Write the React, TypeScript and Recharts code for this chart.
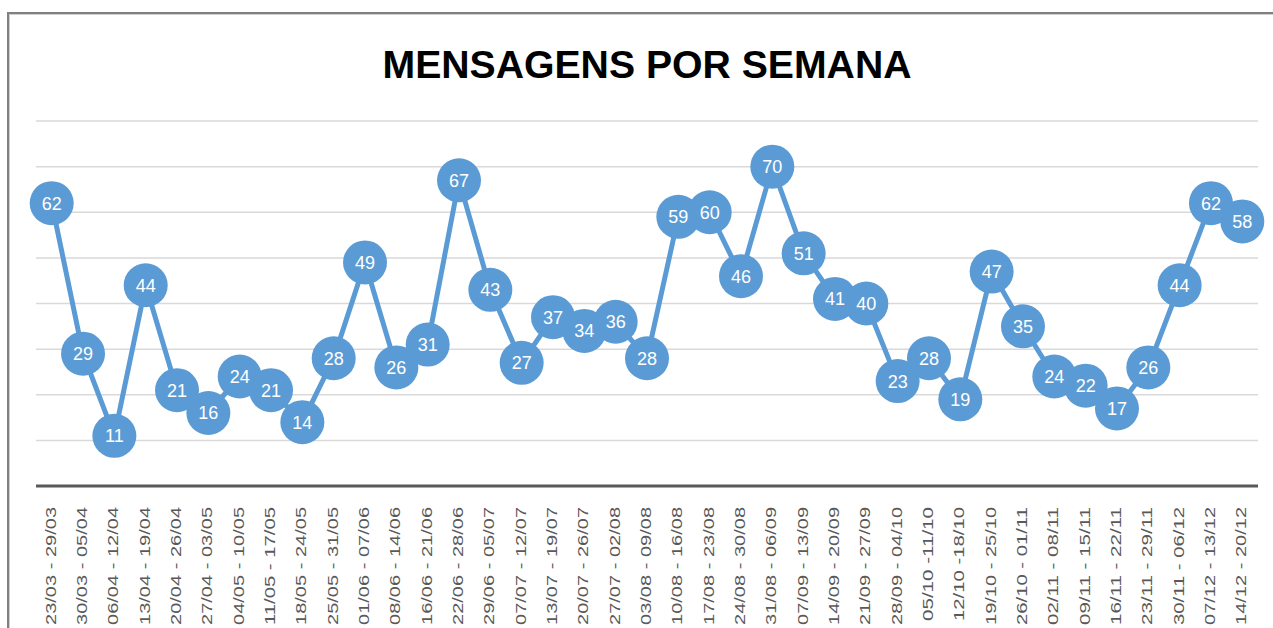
import React from 'react';
import { LineChart, Line, XAxis, YAxis, CartesianGrid, LabelList } from 'recharts';

const weeks = [
  '23/03 - 29/03', '30/03 - 05/04', '06/04 - 12/04', '13/04 - 19/04', '20/04 - 26/04',
  '27/04 - 03/05', '04/05 - 10/05', '11/05 - 17/05', '18/05 - 24/05', '25/05 - 31/05',
  '01/06 - 07/06', '08/06 - 14/06', '16/06 - 21/06', '22/06 - 28/06', '29/06 - 05/07',
  '07/07 - 12/07', '13/07 - 19/07', '20/07 - 26/07', '27/07 - 02/08', '03/08 - 09/08',
  '10/08 - 16/08', '17/08 - 23/08', '24/08 - 30/08', '31/08 - 06/09', '07/09 - 13/09',
  '14/09 - 20/09', '21/09 - 27/09', '28/09 - 04/10', '05/10 -11/10', '12/10 -18/10',
  '19/10 - 25/10', '26/10 - 01/11', '02/11 - 08/11', '09/11 - 15/11', '16/11 - 22/11',
  '23/11 - 29/11', '30/11 - 06/12', '07/12 - 13/12', '14/12 - 20/12',
];

const messages = [
  62, 29, 11, 44, 21, 16, 24, 21, 14, 28,
  49, 26, 31, 67, 43, 27, 37, 34, 36, 28,
  59, 60, 46, 70, 51, 41, 40, 23, 28, 19,
  47, 35, 24, 22, 17, 26, 44, 62, 58,
];

const yTicks = [0, 10, 20, 30, 40, 50, 60, 70, 80];

const title = 'MENSAGENS POR SEMANA';

const data = weeks.map((week, i) => ({ week, value: messages[i] }));

const BLUE = '#5B9BD5';

const WeekTick = (props: any) => {
  const { x, y, payload } = props;
  const label: string = payload.value;
  const len = label.includes(' -1') ? 114 : 118;
  return (
    <text
      transform={`translate(${x - 1},${y + 13}) rotate(-90)`}
      textAnchor="end"
      dy="0.36em"
      fontFamily="Liberation Sans, Arial, sans-serif"
      fontSize={14}
      fill="#595959"
      textLength={len}
      lengthAdjust="spacingAndGlyphs"
    >
      {label}
    </text>
  );
};

const ValueLabel = (props: any) => {
  const { x, y, value } = props;
  return (
    <text
      x={x}
      y={y}
      dy="0.36em"
      textAnchor="middle"
      fontFamily="Liberation Sans, Arial, sans-serif"
      fontSize={18}
      fill="#ffffff"
    >
      {value}
    </text>
  );
};

export default function App() {
  return (
    <div style={{ position: 'absolute', left: 0, top: 0, width: 1273, height: 628, background: '#fff', overflow: 'hidden' }}>
      <LineChart
        width={1273}
        height={628}
        data={data}
        margin={{ top: 121, right: 15, left: 36, bottom: 0 }}
      >
        <CartesianGrid vertical={false} stroke="#d9d9d9" strokeWidth={1.5} />
        <YAxis hide domain={[0, 80]} ticks={yTicks} type="number" />
        <XAxis
          dataKey="week"
          interval={0}
          height={142}
          padding={{ left: 15.7, right: 15.7 }}
          tickLine={false}
          axisLine={{ stroke: '#595959', strokeWidth: 3 }}
          tick={<WeekTick />}
        />
        <Line
          type="linear"
          dataKey="value"
          stroke={BLUE}
          strokeWidth={5}
          dot={{ r: 22, fill: BLUE, stroke: BLUE, strokeWidth: 0 }}
          activeDot={false}
          isAnimationActive={false}
        >
          <LabelList dataKey="value" content={<ValueLabel />} />
        </Line>
      </LineChart>
      <svg
        width={1273}
        height={628}
        style={{ position: 'absolute', left: 0, top: 0, pointerEvents: 'none' }}
      >
        <line x1={7} y1={13} x2={1273} y2={13} stroke="#808080" strokeWidth={2} />
        <line x1={9} y1={14.5} x2={1273} y2={14.5} stroke="#d0d0d0" strokeWidth={1} />
        <line x1={8} y1={12} x2={8} y2={628} stroke="#808080" strokeWidth={2} />
        <line x1={9.5} y1={14} x2={9.5} y2={628} stroke="#d0d0d0" strokeWidth={1} />
        <text
          x={647}
          y={78}
          textAnchor="middle"
          fontFamily="Liberation Sans, Arial, sans-serif"
          fontWeight="bold"
          fontSize={38}
          fill="#000000"
          textLength={529}
          lengthAdjust="spacingAndGlyphs"
        >
          {title}
        </text>
      </svg>
    </div>
  );
}
